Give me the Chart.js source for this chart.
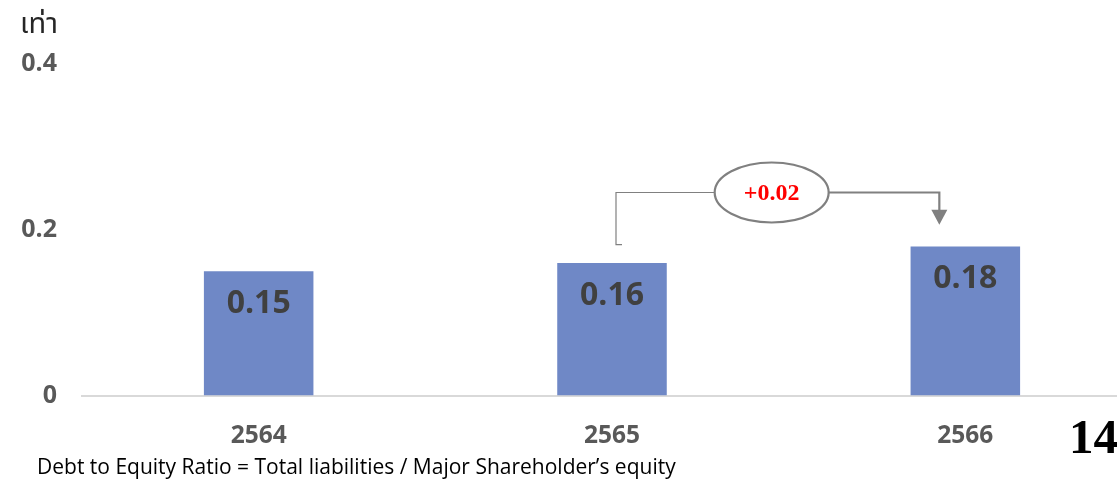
<!DOCTYPE html>
<html>
<head>
<meta charset="utf-8">
<script src="https://cdn.jsdelivr.net/npm/chart.js@4"></script>
<style>
  html, body { margin: 0; padding: 0; background: #fff; overflow: hidden; }
  #wrap { position: relative; width: 1117px; height: 480px; overflow: hidden; }
  #wrap canvas { position: absolute; left: 0; top: 0; }
  .unit { position: absolute; left: 20px; top: 2px; font: 29px "Noto Sans Thai", "Noto Sans", "DejaVu Sans", sans-serif; color: #262626; }
  .note { position: absolute; left: 37px; top: 452px; font: 21px "Open Sans", sans-serif; color: #000; white-space: nowrap; }
  .page { position: absolute; left: 1069px; top: 408px; font: bold 49px "Liberation Serif", "Times New Roman", serif; color: #000; }
</style>
</head>
<body>
<div id="wrap">
  <canvas id="chart" width="1142" height="480"></canvas>
  <div class="unit">เท่า</div>
  <div class="note">Debt to Equity Ratio = Total liabilities / Major Shareholder’s equity</div>
  <div class="page">14</div>
</div>
<script>
// Chart data
const years = ['2564', '2565', '2566'];
const deRatio = [0.15, 0.16, 0.18];
const yTicks = [0, 0.2, 0.4];
const changeLabel = '+0.02';

// Draws the bar value inside each bar, near its top
const valueLabels = {
  id: 'valueLabels',
  afterDatasetsDraw(chart) {
    const ctx = chart.ctx;
    const meta = chart.getDatasetMeta(0);
    ctx.save();
    ctx.font = 'bold 32px "Open Sans", sans-serif';
    ctx.fillStyle = '#404040';
    ctx.textAlign = 'center';
    ctx.textBaseline = 'middle';
    meta.data.forEach((bar, i) => {
      ctx.fillText(deRatio[i].toFixed(2), bar.x, bar.y + 33);
    });
    ctx.restore();
  }
};

// Elbow connector with the change bubble between 2565 and 2566
const changeCallout = {
  id: 'changeCallout',
  afterDatasetsDraw(chart) {
    const ctx = chart.ctx;
    const x = chart.scales.x, y = chart.scales.y;
    const x1 = x.getPixelForValue(1) + 4;
    const x2 = x.getPixelForValue(2) - 26;
    const yStart = y.getPixelForValue(deRatio[1] + 0.022);
    const yLine = y.getPixelForValue(0.245);
    const yTip = y.getPixelForValue(deRatio[2] + 0.026);
    const cx = (x1 + x2) / 2 - 6, rx = 57, ry = 30;

    ctx.save();
    ctx.strokeStyle = '#808080';
    // left leg
    ctx.lineWidth = 1.2;
    ctx.beginPath();
    ctx.moveTo(x1 + 6, yStart);
    ctx.lineTo(x1, yStart);
    ctx.lineTo(x1, yLine);
    ctx.lineTo(cx - rx, yLine);
    ctx.stroke();
    // right leg with arrow
    ctx.lineWidth = 2.2;
    ctx.beginPath();
    ctx.moveTo(cx + rx, yLine);
    ctx.lineTo(x2, yLine);
    ctx.lineTo(x2, yTip - 12);
    ctx.stroke();
    ctx.fillStyle = '#808080';
    ctx.beginPath();
    ctx.moveTo(x2 - 8, yTip - 15);
    ctx.lineTo(x2 + 8, yTip - 15);
    ctx.lineTo(x2, yTip);
    ctx.closePath();
    ctx.fill();
    // bubble
    ctx.fillStyle = '#fff';
    ctx.lineWidth = 2.2;
    ctx.beginPath();
    ctx.ellipse(cx, yLine, rx, ry, 0, 0, Math.PI * 2);
    ctx.fill();
    ctx.stroke();
    ctx.fillStyle = '#ff0000';
    ctx.font = 'bold 24px "Liberation Serif", "Times New Roman", serif';
    ctx.textAlign = 'center';
    ctx.textBaseline = 'middle';
    ctx.fillText(changeLabel, cx, yLine + 1);
    ctx.restore();
  }
};

const ctx = document.getElementById('chart').getContext('2d');
const chart = new Chart(ctx, {
  type: 'bar',
  data: {
    labels: years,
    datasets: [{
      data: deRatio,
      backgroundColor: '#6f88c6',
      categoryPercentage: 1,
      barPercentage: 0.31
    }]
  },
  options: {
    responsive: false,
    animation: false,
    layout: { padding: { top: 64, bottom: 3, right: 0, left: 0 } },
    plugins: {
      legend: { display: false },
      tooltip: { enabled: false }
    },
    scales: {
      x: {
        grid: { display: false, drawTicks: false },
        border: { color: '#d9d9d9', width: 2 },
        ticks: {
          padding: 26,
          color: '#595959',
          font: { family: '"Open Sans", sans-serif', size: 24.5, weight: 'bold' }
        }
      },
      y: {
        min: 0,
        max: 0.4,
        afterBuildTicks(axis) {
          axis.ticks = yTicks.map(v => ({ value: v }));
        },
        afterFit(axis) { axis.width = 82; },
        grid: { display: false, drawTicks: false },
        border: { display: false },
        ticks: {
          padding: 25,
          color: '#595959',
          font: { family: '"Open Sans", sans-serif', size: 25, weight: 'bold' },
          callback: v => (v === 0 ? '0' : v.toFixed(1))
        }
      }
    }
  },
  plugins: [valueLabels, changeCallout]
});
</script>
</body>
</html>
